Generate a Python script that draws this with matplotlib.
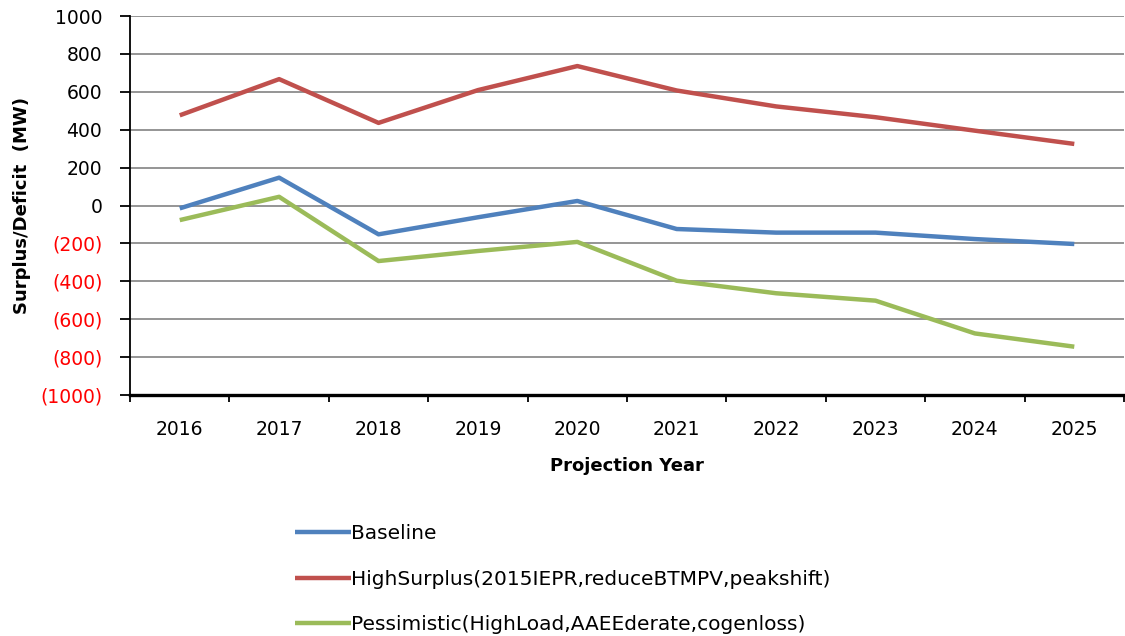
import matplotlib.pyplot as plt
from matplotlib.ticker import FixedLocator, FuncFormatter

years = ['2016', '2017', '2018', '2019', '2020', '2021', '2022', '2023', '2024', '2025']
baseline = [-15, 147, -152, -62, 24, -124, -143, -143, -177, -203]
high_surplus = [476, 667, 436, 609, 736, 607, 523, 466, 395, 325]
pessimistic = [-77, 46, -293, -240, -192, -397, -463, -502, -675, -745]

labels = ['Baseline',
          'HighSurplus(2015IEPR,reduceBTMPV,peakshift)',
          'Pessimistic(HighLoad,AAEEderate,cogenloss)']
colors = ['#4F81BD', '#C0504D', '#9BBB59']

plt.rcParams['font.family'] = ['DejaVu Sans']

fig = plt.figure(figsize=(11.25, 6.36), dpi=100)
ax = fig.add_axes([0.1156, 0.3789, 0.8835, 0.5959])

x = list(range(len(years)))
for series, lab, col in zip([baseline, high_surplus, pessimistic], labels, colors):
    ax.plot(x, series, color=col, linewidth=3.2, label=lab, solid_capstyle='butt')

ax.set_xlim(-0.5, len(years) - 0.5)
ax.set_ylim(-1000, 1000)
ax.set_yticks(range(-1000, 1001, 200))
ax.yaxis.grid(True, color='#8c8c8c', linewidth=1.3)
ax.set_axisbelow(True)


def fmt(v, pos):
    v = int(round(v))
    if v < 0:
        return '({})'.format(-v)
    return str(v)


ax.yaxis.set_major_formatter(FuncFormatter(fmt))
for t, v in zip(ax.get_yticklabels(), range(-1000, 1001, 200)):
    if v < 0:
        t.set_color('#ff0000')

ax.set_xticks(x)
ax.set_xticklabels(years)
ax.xaxis.set_minor_locator(FixedLocator([i - 0.5 for i in range(len(years) + 1)]))
ax.tick_params(axis='x', which='major', length=0, pad=18, labelsize=13.5)
ax.tick_params(axis='x', which='minor', length=5, width=1.3, direction='out')
ax.tick_params(axis='y', length=7, width=1.3, direction='out', labelsize=13.5, pad=13)

for s in ['top', 'right']:
    ax.spines[s].set_visible(False)
ax.spines['left'].set_linewidth(1.3)
ax.spines['bottom'].set_linewidth(2.4)

ax.set_ylabel('Surplus/Deficit  (MW)', fontsize=13, fontweight='bold')
ax.yaxis.set_label_coords(-0.109, 0.5)
ax.yaxis.label.set_va('center')
ax.set_xlabel('Projection Year', fontsize=13, fontweight='bold')
ax.xaxis.set_label_coords(0.5, -0.187)
ax.xaxis.label.set_va('center')

fig.legend(loc='center left', bbox_to_anchor=(0.2622, 0.0895),
           frameon=False, fontsize=14.5, handlelength=2.8, handletextpad=0.0,
           labelspacing=1.3, borderpad=0, borderaxespad=0)

fig.savefig('out.png', dpi=100)
